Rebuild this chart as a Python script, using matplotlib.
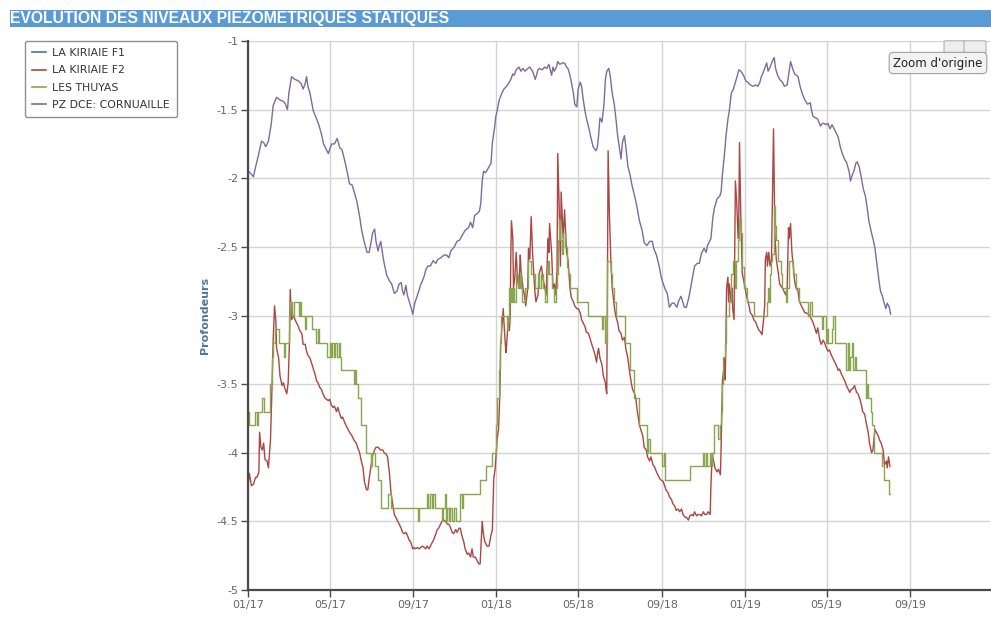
import numpy as np
import pandas as pd
import matplotlib
matplotlib.use("Agg")
import matplotlib.pyplot as plt
from matplotlib.lines import Line2D
from matplotlib.patches import Rectangle, FancyBboxPatch

TITLE = "EVOLUTION DES NIVEAUX PIEZOMETRIQUES STATIQUES"
START = pd.Timestamp("2017-01-01")

series_names = ["LA KIRIAIE F1", "LA KIRIAIE F2", "LES THUYAS", "PZ DCE: CORNUAILLE"]
series_colors = ["#4572A7", "#AA4643", "#89A54E", "#80699B"]

# LA KIRIAIE F1: no measurement over the period
f1_days = []
f1_levels = []

# LA KIRIAIE F2 (days since 2017-01-01, static level in m)
f2_days = [0, 2, 5, 8, 11, 13, 16, 17, 19, 21, 23, 25, 28, 30, 33, 35, 37, 39, 41, 42,
           45, 47, 50, 52, 54, 57, 59, 61, 62, 64, 67, 69, 71, 74, 76, 79, 81, 84, 86, 88,
           91, 93, 96, 98, 101, 103, 105, 108, 110, 113, 115, 118, 120, 122, 125, 127, 130, 132, 135, 137,
           139, 142, 144, 147, 149, 152, 154, 156, 159, 161, 164, 166, 169, 171, 174, 176, 178, 181, 183, 186,
           188, 191, 193, 195, 198, 200, 203, 205, 208, 210, 213, 215, 217, 220, 222, 225, 227, 229, 232, 234,
           237, 239, 242, 244, 246, 249, 251, 254, 256, 259, 261, 263, 266, 268, 271, 273, 276, 278, 280, 283,
           285, 288, 290, 293, 295, 297, 300, 302, 305, 307, 310, 312, 314, 317, 319, 322, 324, 327, 329, 331,
           334, 336, 339, 341, 344, 346, 348, 351,
           354, 357, 359, 361, 363, 366, 368, 370, 371, 373, 375, 376, 378, 379, 380, 382, 384, 385, 386, 387,
           389, 390, 392, 394, 396, 398, 400, 401, 404, 406, 408, 411, 412, 414, 416, 418, 421, 423, 426, 428,
           431, 433, 436, 438, 440, 441, 442, 443, 446, 448, 450, 452, 454, 455, 457, 459, 460, 463, 465, 468,
           470, 473, 475, 478, 480, 483, 485, 488, 490, 492, 495, 497, 500, 502, 505, 507, 510, 512, 514, 515,
           517, 520, 522, 525, 526, 527, 528, 529, 531, 533, 535, 538, 540, 543, 545, 548, 550, 553, 555, 558,
           560, 563, 565, 568, 570, 572, 575, 577, 580, 582, 585, 587, 590, 592, 595, 597, 600, 602, 605, 607,
           610, 612, 614, 617, 619, 622, 624, 627, 629, 632, 634, 637, 639, 642, 644, 647, 649, 652, 654, 656,
           659, 661, 664, 666, 669, 671, 674, 676, 679, 680, 682, 684, 686, 689, 691, 694, 695, 696, 697, 699,
           700, 701, 702, 703, 705, 706, 707, 709, 710, 711, 712, 714, 715, 716, 718, 720, 721, 722, 724,
           726, 729, 731, 733, 736, 738, 741, 743, 746, 748, 751, 753, 755, 757, 759, 760, 762, 763, 764, 765,
           767, 769, 770, 772, 773, 774, 776, 779, 781, 785, 787, 790, 792, 794, 795, 797, 799, 801, 803, 805,
           808, 810, 813, 815, 818, 820, 823, 825, 828, 830, 832, 835, 837, 840, 842, 845, 847, 850, 852, 854,
           857, 859, 862, 864, 867, 869, 872, 874, 877, 879, 881, 884, 886, 889, 891, 894, 896, 899, 901, 903,
           906, 908, 911, 913, 916, 918, 920, 921, 923, 926, 928, 930, 933, 934, 935, 938, 939, 941, 943]
f2_levels = [-4.24, -4.15, -4.24, -4.23, -4.18, -4.18, -4.14, -3.85, -3.96, -3.98, -3.93, -4.05, -4.06, -4.11, -3.91, -3.57, -3.18, -2.93, -3.05, -3.24,
             -3.31, -3.44, -3.51, -3.49, -3.53, -3.57, -3.49, -3.18, -2.81, -3.03, -3.00, -3.03, -3.05, -3.08, -3.11, -3.13, -3.21, -3.21, -3.26, -3.29,
             -3.31, -3.34, -3.39, -3.42, -3.48, -3.49, -3.52, -3.54, -3.57, -3.60, -3.61, -3.62, -3.61, -3.65, -3.67, -3.66, -3.70, -3.67, -3.72, -3.75,
             -3.74, -3.78, -3.80, -3.83, -3.85, -3.87, -3.89, -3.91, -3.93, -3.96, -4.00, -4.05, -4.11, -4.21, -4.27, -4.27, -4.19, -4.09, -4.02, -3.98,
             -3.96, -3.96, -3.97, -3.98, -3.98, -4.00, -4.01, -4.03, -4.16, -4.29, -4.39, -4.45, -4.47, -4.50, -4.52, -4.55, -4.58, -4.59, -4.58, -4.60,
             -4.64, -4.65, -4.70, -4.69, -4.70, -4.69, -4.70, -4.69, -4.68, -4.69, -4.70, -4.68, -4.70, -4.68, -4.65, -4.63, -4.59, -4.56, -4.55, -4.52,
             -4.50, -4.49, -4.50, -4.52, -4.52, -4.54, -4.58, -4.59, -4.56, -4.58, -4.55, -4.55, -4.60, -4.65, -4.70, -4.74, -4.73, -4.76, -4.70, -4.76,
             -4.76, -4.78, -4.81, -4.81, -4.50, -4.60, -4.65, -4.68,
             -4.68, -4.60, -4.56, -4.19, -4.12, -3.90, -3.83, -3.57, -3.24, -3.08, -2.95, -3.05, -3.21, -3.27, -3.21, -3.05, -3.11, -3.03, -2.59, -2.31,
             -2.44, -2.80, -2.72, -2.54, -2.75, -2.80, -2.56, -2.67, -2.80, -2.85, -2.93, -2.80, -2.51, -2.59, -2.28, -2.54, -2.80, -2.90, -2.85, -2.69,
             -2.64, -2.72, -2.80, -2.85, -2.54, -2.44, -2.54, -2.33, -2.54, -2.80, -2.77, -2.85, -2.67, -1.82, -2.18, -2.64, -2.10, -2.44, -2.23, -2.54,
             -2.59, -2.80, -2.87, -2.90, -2.93, -2.95, -2.95, -2.98, -3.03, -3.05, -3.08, -3.12, -3.13, -3.16, -3.21, -3.24, -3.29, -3.34, -3.26, -3.24,
             -3.31, -3.36, -3.44, -3.49, -3.54, -3.57, -2.80, -1.80, -2.28, -2.59, -2.80, -2.93, -3.00, -3.05, -3.11, -3.13, -3.18, -3.16, -3.24, -3.31,
             -3.39, -3.49, -3.54, -3.57, -3.62, -3.70, -3.80, -3.83, -3.88, -3.96, -3.98, -4.03, -4.06, -4.03, -4.09, -4.10, -4.14, -4.16, -4.19, -4.20,
             -4.21, -4.24, -4.27, -4.29, -4.32, -4.34, -4.37, -4.39, -4.42, -4.41, -4.43, -4.41, -4.45, -4.47, -4.47, -4.49, -4.46, -4.45, -4.46, -4.43,
             -4.46, -4.45, -4.45, -4.46, -4.43, -4.45, -4.45, -4.43, -4.45, -4.24, -4.01, -4.06, -4.11, -4.14, -4.12, -4.16, -3.96, -3.70, -3.47, -3.39,
             -3.31, -3.47, -3.21, -2.80, -2.72, -2.90, -2.77, -2.85, -2.90, -2.80, -2.95, -3.03, -2.54, -2.02, -2.18, -2.44, -2.28, -1.74, -2.30,
             -2.69, -2.77, -2.82, -2.87, -2.93, -2.98, -3.00, -3.03, -3.05, -3.08, -3.11, -3.12, -3.14, -3.05, -2.93, -2.59, -2.54, -2.64, -2.59, -2.54,
             -2.64, -2.59, -2.28, -1.64, -2.02, -2.41, -2.59, -2.69, -2.77, -2.80, -2.82, -2.85, -2.80, -2.36, -2.44, -2.33, -2.54, -2.64, -2.75, -2.80,
             -2.82, -2.90, -2.93, -2.95, -2.98, -2.98, -2.99, -3.00, -3.03, -3.05, -3.08, -3.13, -3.09, -3.18, -3.21, -3.18, -3.20, -3.24, -3.26, -3.25,
             -3.29, -3.31, -3.34, -3.36, -3.40, -3.39, -3.43, -3.45, -3.48, -3.51, -3.53, -3.56, -3.54, -3.53, -3.51, -3.56, -3.57, -3.61, -3.65, -3.70,
             -3.72, -3.78, -3.85, -3.93, -4.00, -3.98, -3.88, -3.83, -3.85, -3.88, -3.91, -3.93, -3.98, -4.03, -4.09, -4.06, -4.11, -4.03, -4.10]

# LES THUYAS: readings change in 0.1 m steps (day the value changes, new value)
thuyas_days = [0, 2, 11, 13, 15, 21, 23, 33, 35, 37, 40, 45, 53, 54, 60, 61, 65, 67, 75, 76,
               78, 84, 85, 94, 100, 103, 105, 116, 120, 122, 124, 126, 128, 131, 133, 135, 137, 156, 157, 159,
               161, 166, 174, 180, 182, 186, 191, 196, 205, 210, 249, 251, 263, 265, 267, 270, 272, 274, 285, 287,
               289, 291, 293, 295, 297, 300, 302, 305, 312, 314, 316, 341, 350, 359,
               364, 366, 368, 370, 371, 380, 382, 384, 385, 386, 388, 390, 391, 394, 396, 399, 401, 403, 407, 411,
               412, 416, 421, 426, 428, 431, 433, 437, 439, 441, 442, 446, 450, 452, 454, 455, 457, 459, 461, 463,
               465, 468, 470, 473, 483, 500, 520, 522, 524, 527, 528, 533, 535, 538, 540, 554, 561, 567, 574, 586,
               588, 590, 608, 611, 613, 650, 668, 670, 673, 674, 679, 681, 682, 684, 691, 693, 695, 696, 698, 700,
               702, 707, 710, 712, 715, 717, 720, 722, 724, 726, 729, 733, 743, 762, 764, 765, 767, 769, 770, 772,
               774, 775, 778, 783, 785, 790, 792, 794, 800, 805, 809, 823, 825, 828, 843, 845, 849, 850, 852, 858,
               860, 862, 879, 881, 883, 885, 888, 889, 891, 893, 908, 910, 911, 915, 917, 920, 932, 934, 942, 943]
thuyas_levels = [-3.7, -3.8, -3.7, -3.8, -3.7, -3.6, -3.7, -3.5, -3.3, -3.2, -3.1, -3.2, -3.3, -3.2, -3.0, -2.9, -3.0, -2.9, -3.0, -2.9,
                 -3.0, -3.1, -3.0, -3.1, -3.2, -3.1, -3.2, -3.3, -3.2, -3.3, -3.2, -3.3, -3.2, -3.3, -3.2, -3.3, -3.4, -3.5, -3.4, -3.5,
                 -3.6, -3.8, -4.0, -4.1, -4.0, -4.1, -4.2, -4.4, -4.3, -4.4, -4.5, -4.4, -4.3, -4.4, -4.3, -4.4, -4.3, -4.4, -4.5, -4.4,
                 -4.3, -4.5, -4.4, -4.5, -4.4, -4.5, -4.4, -4.5, -4.3, -4.4, -4.3, -4.2, -4.1, -4.0,
                 -3.8, -3.6, -3.4, -3.2, -3.0, -3.1, -3.0, -2.8, -2.9, -2.8, -2.9, -2.8, -2.9, -2.7, -2.8, -2.7, -2.8, -2.9, -2.8, -2.7,
                 -2.6, -2.7, -2.8, -2.7, -2.8, -2.7, -2.8, -2.9, -2.7, -2.6, -2.7, -2.8, -2.9, -2.8, -2.7, -2.45, -2.3, -2.45, -2.55, -2.4,
                 -2.5, -2.65, -2.7, -2.8, -2.9, -3.0, -3.1, -3.0, -3.2, -3.0, -2.6, -2.7, -2.8, -2.9, -3.0, -3.2, -3.4, -3.6, -3.8, -4.0,
                 -3.9, -4.0, -4.1, -4.0, -4.2, -4.1, -4.0, -4.1, -4.0, -4.1, -4.0, -4.1, -4.0, -3.8, -3.9, -3.8, -3.7, -3.5, -3.3, -3.2,
                 -3.0, -2.9, -2.7, -2.6, -2.8, -2.6, -2.45, -2.3, -2.4, -2.65, -2.8, -2.9, -3.0, -2.9, -2.8, -2.9, -2.7, -2.6, -2.55, -2.2,
                 -2.35, -2.45, -2.6, -2.7, -2.8, -2.9, -2.8, -2.6, -2.7, -2.8, -2.9, -3.0, -2.9, -3.0, -3.1, -3.0, -3.2, -3.1, -3.2, -3.1,
                 -3.0, -3.2, -3.4, -3.2, -3.4, -3.3, -3.2, -3.4, -3.3, -3.4, -3.6, -3.5, -3.6, -3.7, -3.8, -4.0, -4.1, -4.2, -4.3, -4.3]

# PZ DCE: CORNUAILLE
pz_days = [1, 5, 8, 11, 15, 18, 20, 23, 26, 30, 34, 37, 42, 47, 52, 55, 58, 60, 64, 69,
           74, 78, 81, 84, 86, 88, 91, 96, 101, 104, 108, 111, 115, 118, 120, 123, 127, 131, 135, 138,
           142, 146, 149, 153, 156, 160, 164, 167, 171, 175, 178, 181, 183, 186, 188, 191, 193, 195, 198, 200,
           204, 208, 211, 215, 219, 222, 225, 227, 229, 232, 234, 237, 240, 242, 245, 249, 251, 254, 256, 259,
           261, 264, 268, 272, 276, 279, 283, 288, 292, 295, 298, 303, 307, 311, 314, 319, 324, 327, 330, 333,
           336, 340, 342, 344, 346, 349,
           357, 359, 362, 364, 366, 369, 373, 376, 380, 384, 386, 389, 391, 394, 398, 401, 404, 407, 411, 414,
           418, 422, 426, 428, 432, 436, 439, 442, 446, 448, 450, 453, 455, 458, 462, 465, 468, 470, 473, 475,
           478, 480, 483, 485, 488, 490, 492, 495, 497, 501, 504, 507, 511, 513, 515, 517, 520, 523, 525, 527,
           530, 532, 535, 538, 541, 543, 546, 548, 550, 553, 555, 558, 561, 564, 568, 571, 575, 579, 582, 586,
           590, 594, 596, 600, 604, 607, 610, 613, 616, 619, 623, 626, 630, 633, 636, 638, 641, 644, 648, 652,
           656, 660, 663, 666, 670, 673, 675, 678, 680, 683, 685, 689, 693, 695, 697, 700, 702, 705, 707, 710,
           713, 716, 719, 721,
           724, 728, 731, 734, 738, 742, 746, 749, 752, 754, 756, 759, 762, 764, 767, 770, 773, 775, 778, 781,
           785, 788, 792, 795, 797, 800, 803, 806, 808, 811, 814, 818, 822, 826, 828, 830, 834, 837, 841, 844,
           846, 849, 852, 855, 858, 861, 863, 867, 870, 873, 877, 879, 883, 885, 888, 890, 893, 895, 898, 900,
           904, 907, 910, 912, 916, 919, 921, 923, 925, 927, 929, 932, 934, 937, 939, 942, 944]
pz_levels = [-1.95, -1.97, -1.99, -1.92, -1.84, -1.77, -1.73, -1.74, -1.77, -1.73, -1.61, -1.47, -1.41, -1.43, -1.44, -1.46, -1.50, -1.38, -1.26, -1.28,
             -1.29, -1.31, -1.35, -1.31, -1.26, -1.33, -1.38, -1.51, -1.57, -1.61, -1.68, -1.75, -1.79, -1.82, -1.79, -1.75, -1.75, -1.71, -1.78, -1.79,
             -1.87, -1.96, -2.04, -2.05, -2.10, -2.17, -2.28, -2.38, -2.47, -2.54, -2.54, -2.46, -2.40, -2.37, -2.46, -2.53, -2.49, -2.46, -2.56, -2.62,
             -2.71, -2.75, -2.77, -2.84, -2.82, -2.77, -2.76, -2.82, -2.85, -2.78, -2.85, -2.90, -2.95, -2.99, -2.91, -2.85, -2.82, -2.77, -2.75, -2.71,
             -2.67, -2.64, -2.64, -2.60, -2.62, -2.59, -2.58, -2.56, -2.56, -2.58, -2.53, -2.50, -2.46, -2.45, -2.42, -2.38, -2.36, -2.32, -2.36, -2.27,
             -2.26, -2.24, -2.18, -2.02, -1.95, -1.96,
             -1.89, -1.74, -1.64, -1.55, -1.51, -1.43, -1.38, -1.35, -1.33, -1.30, -1.28, -1.24, -1.25, -1.21, -1.19, -1.22, -1.20, -1.22, -1.20, -1.19,
             -1.22, -1.28, -1.21, -1.20, -1.21, -1.19, -1.20, -1.17, -1.25, -1.19, -1.22, -1.19, -1.15, -1.17, -1.16, -1.16, -1.19, -1.20, -1.25, -1.30,
             -1.38, -1.46, -1.48, -1.35, -1.30, -1.33, -1.41, -1.51, -1.56, -1.64, -1.71, -1.77, -1.80, -1.78, -1.69, -1.56, -1.59, -1.46, -1.28, -1.22,
             -1.20, -1.25, -1.38, -1.46, -1.59, -1.69, -1.79, -1.86, -1.74, -1.69, -1.77, -1.91, -1.97, -2.05, -2.13, -2.20, -2.31, -2.38, -2.47, -2.49,
             -2.46, -2.46, -2.51, -2.56, -2.64, -2.72, -2.77, -2.81, -2.84, -2.94, -2.91, -2.91, -2.94, -2.89, -2.86, -2.89, -2.94, -2.94, -2.86, -2.75,
             -2.64, -2.62, -2.62, -2.55, -2.51, -2.54, -2.49, -2.46, -2.44, -2.28, -2.22, -2.15, -2.13, -2.10, -1.97, -1.82, -1.70, -1.57, -1.51, -1.38,
             -1.35, -1.30, -1.25, -1.21,
             -1.22, -1.25, -1.29, -1.30, -1.32, -1.33, -1.32, -1.33, -1.30, -1.26, -1.24, -1.20, -1.16, -1.22, -1.19, -1.15, -1.12, -1.20, -1.25, -1.28,
             -1.30, -1.33, -1.32, -1.22, -1.15, -1.20, -1.24, -1.25, -1.26, -1.33, -1.38, -1.43, -1.46, -1.45, -1.51, -1.55, -1.56, -1.57, -1.62, -1.60,
             -1.60, -1.61, -1.60, -1.64, -1.61, -1.64, -1.66, -1.70, -1.77, -1.82, -1.87, -1.88, -1.95, -2.02, -1.97, -1.95, -1.89, -1.88, -1.92, -1.97,
             -2.08, -2.13, -2.23, -2.31, -2.40, -2.46, -2.51, -2.59, -2.67, -2.75, -2.82, -2.86, -2.90, -2.95, -2.91, -2.94, -2.99]

y_ticks = [-5, -4.5, -4, -3.5, -3, -2.5, -2, -1.5, -1]
x_tick_dates = pd.date_range("2017-01-01", "2019-09-01", freq="4MS")
x_end_day = 1090


def to_dates(days):
    return START + pd.to_timedelta(np.asarray(days, dtype=float), unit="D")


W, H = 991, 617
fig = plt.figure(figsize=(W / 100, H / 100), dpi=100)
fig.patch.set_facecolor("white")


def fx(px):
    return px / W


def fy(py):
    return 1 - py / H


# header band
fig.patches.append(Rectangle((fx(10), fy(27)), 1 - fx(10), 17 / H, transform=fig.transFigure,
                             facecolor="#5b9bd5", edgecolor="none", zorder=0))
fig.text(fx(10), fy(19), TITLE, color="white", fontsize=11.3, fontweight="bold",
         family="Liberation Sans", va="center", ha="left")

ax = fig.add_axes([fx(248), fy(590), fx(990) - fx(248), (590 - 41) / H])
ax.set_facecolor("white")

ax.plot(to_dates(f1_days), f1_levels, color=series_colors[0], lw=1.0)
ax.plot(to_dates(f2_days), f2_levels, color=series_colors[1], lw=1.0)
ax.plot(to_dates(thuyas_days), thuyas_levels, color=series_colors[2], lw=1.0, drawstyle="steps-post")
ax.plot(to_dates(pz_days), pz_levels, color=series_colors[3], lw=1.0)

ax.set_ylim(-5, -1)
ax.set_yticks(y_ticks)
ax.set_yticklabels([f"{v:g}" for v in y_ticks])
ax.set_xlim(START, START + pd.Timedelta(days=x_end_day))
ax.set_xticks(x_tick_dates)
ax.set_xticklabels([d.strftime("%m/%y") for d in x_tick_dates])

ax.grid(True, color="#d4d4d4", lw=1.0)
ax.set_axisbelow(True)
for side in ("top", "right"):
    ax.spines[side].set_visible(False)
for side in ("left", "bottom"):
    ax.spines[side].set_color("#4a4a4a")
    ax.spines[side].set_linewidth(1.6)
ax.tick_params(direction="out", length=5, width=1, color="#4a4a4a",
               labelsize=8, labelcolor="#666666", pad=2)

fig.text(fx(205), fy(315), "Profondeurs", rotation=90, color="#4d759e", fontsize=8,
         fontweight="bold", va="center", ha="center")

handles = [Line2D([], [], color=c, lw=1.2) for c in series_colors]
leg = fig.legend(handles, series_names, loc="upper left", bbox_to_anchor=(fx(25), fy(41)),
                 borderaxespad=0, frameon=True, fancybox=True, edgecolor="#909090", facecolor="white",
                 fontsize=7.8, handlelength=1.3, handletextpad=0.55, labelspacing=0.68,
                 borderpad=0.65, framealpha=1)
leg.get_frame().set_linewidth(1.0)
for t in leg.get_texts():
    t.set_color("#333333")

# export / print buttons and the reset-zoom button
for x0 in (946, 966):
    fig.patches.append(FancyBboxPatch((fx(x0), fy(52)), 18 / W, 10 / H, boxstyle="round,pad=0.002",
                                      transform=fig.transFigure, facecolor="#eeeeee",
                                      edgecolor="#b0b0b0", lw=0.8, zorder=3))
fig.text(fx(938), fy(63), "Zoom d'origine", fontsize=8.5, color="#222222", ha="center", va="center",
         zorder=5, bbox=dict(boxstyle="round,pad=0.35", facecolor="#f2f2f2", edgecolor="#a0a0a0", lw=0.8))

fig.savefig("out.png", dpi=100)
